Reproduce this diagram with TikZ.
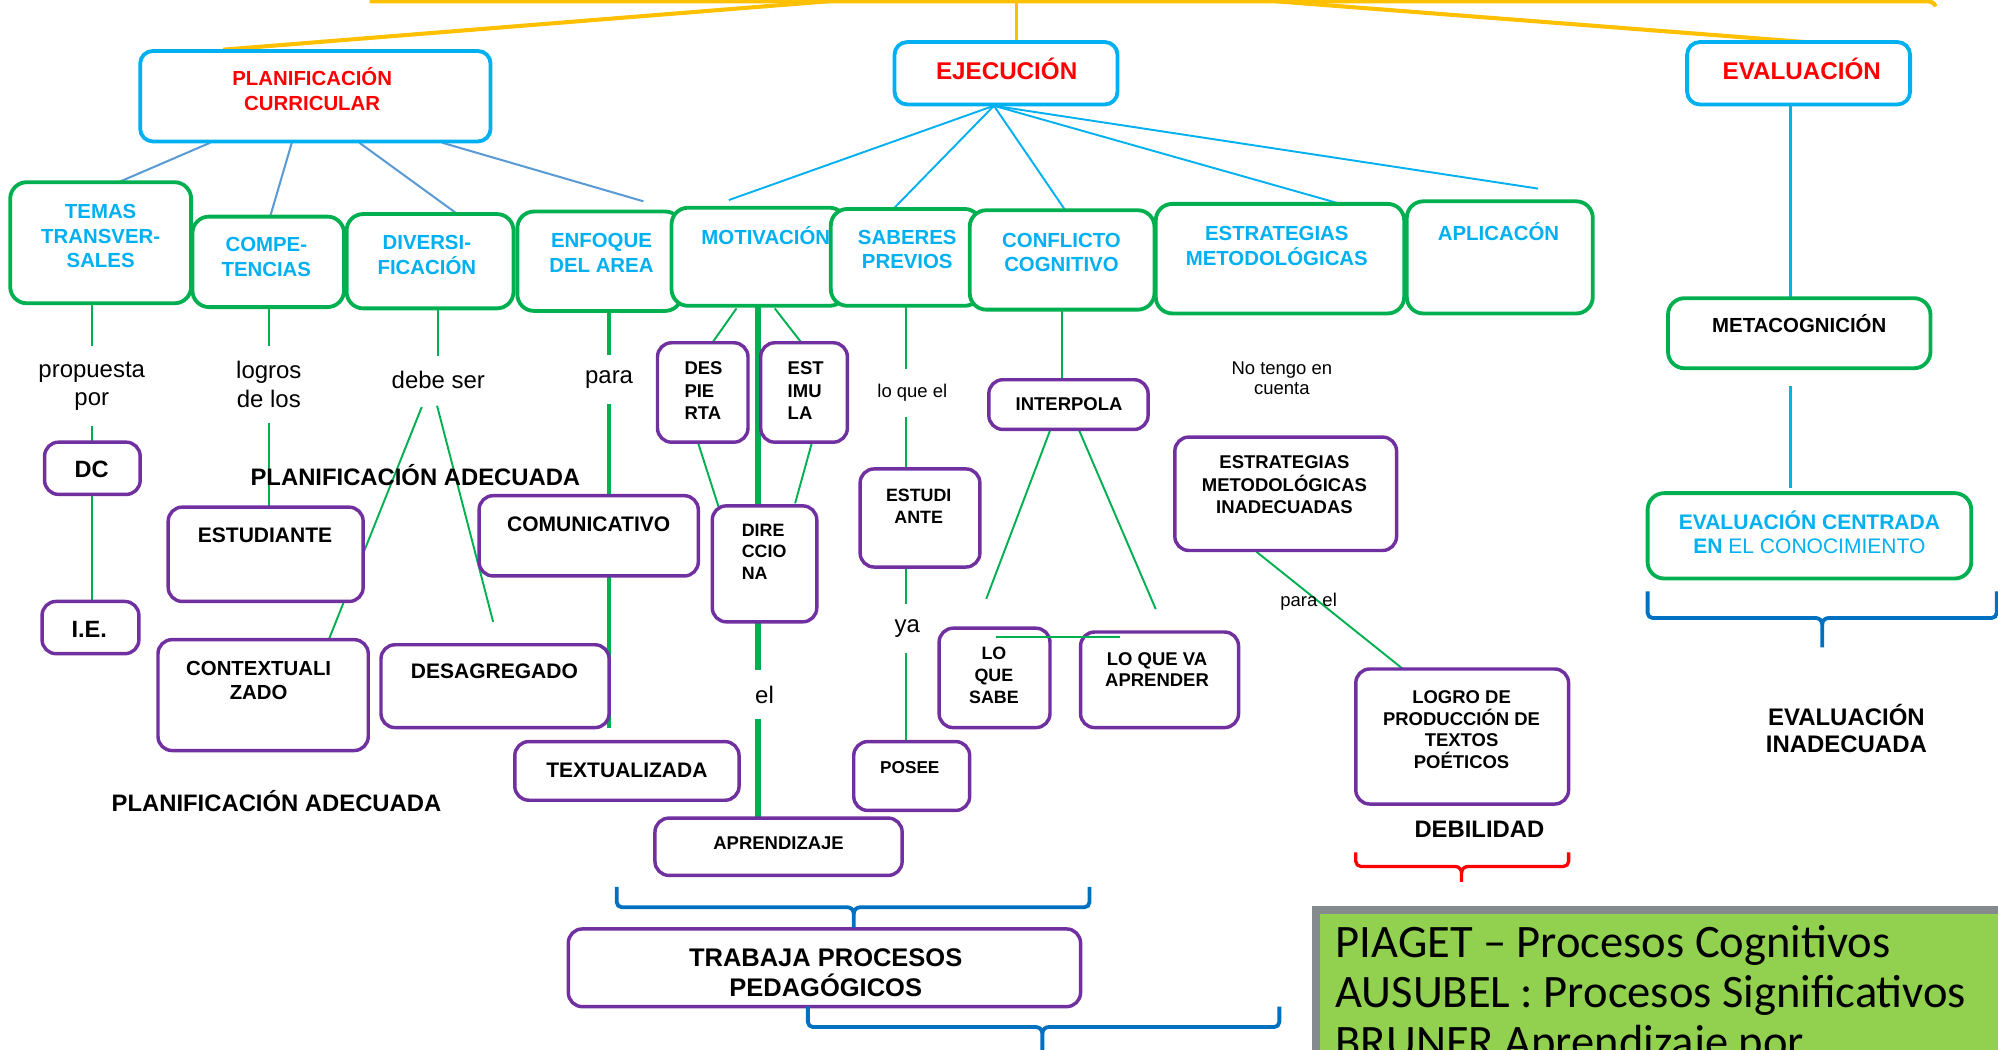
\documentclass[tikz,border=0pt]{standalone}
\usepackage{fontspec}
\setmainfont{Liberation Sans}
\newfontfamily\carl{Carlito}
\usetikzlibrary{calc}
\definecolor{cgreen}{HTML}{00B050}
\definecolor{cblue}{HTML}{00B0F0}
\definecolor{csteel}{HTML}{5B9BD5}
\definecolor{cpurple}{HTML}{7030A0}
\definecolor{cyellow}{HTML}{FFC000}
\definecolor{cdblue}{HTML}{0070C0}
\definecolor{cred}{HTML}{FF0000}
\definecolor{clime}{HTML}{92D050}
\definecolor{cgray}{HTML}{848A8E}
\pgfdeclarelayer{bg}
\pgfsetlayers{bg,main}
\newcommand\fs[2]{\fontsize{#1}{#2}\selectfont}
\newcommand\bx[6]{\node[#1, minimum width=#5pt, minimum height=#6pt] (#2) at (#3,#4) {};}
\newcommand\mybrace[7]{%
\draw[#1] (#2,#4) -- (#2,#5-4) to[out=-90,in=180] (#2+4,#5) -- (#6-5,#5) to[out=0,in=90] (#6,#5+5) -- (#6,#7);
\draw[#1] (#6,#5+5) to[out=90,in=180] (#6+5,#5) -- (#3-4,#5) to[out=0,in=-90] (#3,#5-4) -- (#3,#4);}
\begin{document}
\begin{tikzpicture}[x=1pt,y=-1pt,
  greenbox/.style={draw=cgreen, fill=white, line width=3pt, rounded corners=13pt, inner sep=0pt, outer sep=0pt},
  bluebox/.style={draw=cblue, fill=white, line width=3pt, rounded corners=10pt, inner sep=0pt, outer sep=0pt},
  purplebox/.style={draw=cpurple, fill=white, line width=2.7pt, rounded corners=11pt, inner sep=0pt, outer sep=0pt},
  tx/.style={inner sep=0pt, align=center},
  hd/.style={tx, font=\fs{16}{19.2}\bfseries, text=cblue},
  pk/.style={tx, font=\fs{16.5}{19.5}\bfseries, text=black},
  ps/.style={tx, font=\fs{14.5}{17.5}\bfseries, text=black},
  lab/.style={inner xsep=0pt, inner ysep=12pt, align=center, font=\fs{18.8}{22}, text=black},
  labs/.style={lab, font=\fs{14.5}{16.3}},
  lnY/.style={draw=cyellow, line width=3.2pt},
  lnS/.style={draw=csteel, line width=1.6pt},
  lnB/.style={draw=cblue, line width=1.5pt},
  lnG/.style={draw=cgreen, line width=1.5pt},
  lnGT/.style={draw=cgreen, line width=3.2pt},
  lnGX/.style={draw=cgreen, line width=4.7pt},
  brc/.style={draw=cdblue, line width=3pt, line join=round},
]
\useasboundingbox (0,0) rectangle (1568,824);

% ---------- boxes ----------
\bx{bluebox}{plan}{247.5}{75.5}{275}{71}
\bx{bluebox}{ejec}{789.5}{57.5}{175}{49}
\bx{bluebox}{eval}{1411.5}{57.5}{175}{49}
\bx{greenbox}{temas}{79}{190.5}{142}{95}
\bx{greenbox}{compe}{210.5}{205.5}{119}{71}
\bx{greenbox}{diver}{337.5}{205}{131}{74}
\bx{greenbox}{enfoq}{470.5}{205}{129}{78}
\bx{greenbox}{motiv}{595.5}{201.5}{137}{77}
\bx{greenbox}{saber}{711}{202}{118}{76}
\bx{greenbox}{confl}{833.5}{204}{145}{78}
\bx{greenbox}{estra}{1004.5}{203}{195}{86}
\bx{greenbox}{aplic}{1177}{202}{146}{88}
\bx{greenbox}{meta}{1412}{261.5}{206}{55}
\bx{greenbox}{evcen}{1420}{420.5}{254}{67}
\bx{purplebox}{dc}{72.5}{367.5}{75}{41}
\bx{purplebox}{ie}{71}{492.5}{76}{41}
\bx{purplebox}{estud}{208.5}{435}{153}{74}
\bx{purplebox}{contx}{206.5}{545.5}{165}{87}
\bx{purplebox}{desag}{388.5}{538.5}{179}{65}
\bx{purplebox}{comun}{462}{420.5}{172}{63}
\bx{purplebox}{textu}{492}{605}{176}{46}
\bx{purplebox}{apren}{611}{664.5}{194}{45}
\bx{purplebox}{despi}{551.5}{308}{71}{78}
\bx{purplebox}{estim}{631}{308}{68}{78}
\bx{purplebox}{direc}{600}{442.5}{82}{91}
\bx{purplebox}{estan}{722}{406.5}{94}{77}
\bx{purplebox}{inter}{838.5}{317.5}{125}{39}
\bx{purplebox}{losab}{780.5}{532}{87}{78}
\bx{purplebox}{lova}{910}{533.5}{124}{75}
\bx{purplebox}{posee}{715.5}{609}{91}{54}
\bx{purplebox}{estin}{1009}{387.5}{174}{89}
\bx{purplebox}{logro}{1147.5}{578}{167}{106}
\bx{purplebox}{traba}{647}{759.5}{402}{61}

% ---------- box texts ----------
\node[tx, font=\fs{16}{19.2}\bfseries, text=cred] (plan-t) at (245,70) {PLANIFICACIÓN\\CURRICULAR};
\node[tx, font=\fs{19}{22}\bfseries, text=cred, anchor=base] (ejec-t) at (790,62) {EJECUCIÓN};
\node[tx, font=\fs{19}{22}\bfseries, text=cred, anchor=base] (eval-t) at (1414,62) {EVALUACIÓN};
\node[hd] (temas-t) at (79,185.5) {TEMAS\\TRANSVER-\\SALES};
\node[hd] (compe-t) at (209,201.5) {COMPE-\\TENCIAS};
\node[hd] (diver-t) at (335,200) {DIVERSI-\\FICACIÓN};
\node[hd] (enfoq-t) at (472,198.5) {ENFOQUE\\DEL AREA};
\node[hd, anchor=base] (motiv-t) at (601,192) {MOTIVACIÓN};
\node[hd] (saber-t) at (712,195.7) {SABERES\\PREVIOS};
\node[hd] (confl-t) at (833,198) {CONFLICTO\\COGNITIVO};
\node[hd] (estra-t) at (1002,193) {ESTRATEGIAS\\METODOLÓGICAS};
\node[hd, anchor=base] (aplic-t) at (1176,188.4) {APLICACÓN};
\node[hd, text=black, anchor=base] (meta-t) at (1412,260.7) {METACOGNICIÓN};
\node[tx, font=\fs{16.5}{19}, text=cblue] (evcen-t) at (1420,417.5) {\bfseries EVALUACIÓN CENTRADA\\{\bfseries EN} EL CONOCIMIENTO};
\node[tx, font=\fs{18.5}{22}\bfseries, anchor=base] (dc-t) at (72,374.5) {DC};
\node[tx, font=\fs{18.5}{22}\bfseries, anchor=base] (ie-t) at (70,500) {I.E.};
\node[pk, anchor=base] (estud-t) at (208,425.5) {ESTUDIANTE};
\node[tx, font=\fs{16}{18.8}\bfseries] (contx-t) at (203,533.8) {CONTEXTUALI\\ZADO};
\node[pk, anchor=base] (desag-t) at (388,532.5) {DESAGREGADO};
\node[pk, anchor=base] (comun-t) at (462,417.5) {COMUNICATIVO};
\node[pk, anchor=base] (textu-t) at (492,610) {TEXTUALIZADA};
\node[ps, anchor=base] (apren-t) at (611,666.5) {APRENDIZAJE};
\node[ps, align=left, anchor=west, font=\fs{14.5}{17.75}\bfseries] (despi-t) at (537,306.5) {DES\\PIE\\RTA};
\node[ps, align=left, anchor=west, font=\fs{14.5}{17.75}\bfseries] (estim-t) at (618,306.5) {EST\\IMU\\LA};
\node[ps, align=left, anchor=west, font=\fs{14}{17}\bfseries] (direc-t) at (582,433) {DIRE\\CCIO\\NA};
\node[ps, font=\fs{14}{17.5}\bfseries] (estan-t) at (721,397.3) {ESTUDI\\ANTE};
\node[ps, anchor=base] (inter-t) at (839,322.5) {INTERPOLA};
\node[ps, font=\fs{14}{17}\bfseries] (losab-t) at (780,530) {LO\\QUE\\SABE};
\node[ps, font=\fs{14.5}{17}\bfseries] (lova-t) at (908,525.5) {LO QUE VA\\APRENDER};
\node[ps, font=\fs{13.5}{16}\bfseries, anchor=base] (posee-t) at (714,607) {POSEE};
\node[ps] (estin-t) at (1008,380.5) {ESTRATEGIAS\\METODOLÓGICAS\\INADECUADAS};
\node[ps, font=\fs{14.5}{17.07}\bfseries] (logro-t) at (1147,572.6) {LOGRO DE\\PRODUCCIÓN DE\\TEXTOS\\POÉTICOS};
\node[tx, font=\fs{20}{23.5}\bfseries] (traba-t) at (648,763.3) {TRABAJA PROCESOS\\PEDAGÓGICOS};

% ---------- free labels ----------
\node[lab] (propuesta) at (72,303) {propuesta\\por};
\node[lab] (logros) at (211,301.7) {logros\\de los};
\node[lab, anchor=base] (debe) at (344,305) {debe ser};
\node[lab, anchor=base] (para) at (478,301) {para};
\node[labs, anchor=base] (loqueel) at (716,312) {lo que el};
\node[lab, anchor=base] (ya) at (712,496) {ya};
\node[lab, anchor=base] (el) at (600,552) {el};
\node[labs, inner ysep=0pt] (notengo) at (1006,296.8) {No tengo en\\cuenta};
\node[labs, inner ysep=0pt, anchor=base] (parael) at (1027,476) {para el};
\node[tx, font=\fs{18.7}{22}\bfseries, anchor=base] (planad1) at (326,381) {PLANIFICACIÓN ADECUADA};
\node[tx, font=\fs{18.7}{22}\bfseries, anchor=base] (planad2) at (217,637) {PLANIFICACIÓN ADECUADA};
\node[tx, font=\fs{18.8}{21}\bfseries] (evinad) at (1449,572) {EVALUACIÓN\\INADECUADA};
\node[tx, font=\fs{18.7}{22}\bfseries, anchor=base] (debil) at (1161,657) {DEBILIDAD};

% ---------- connectors (behind boxes) ----------
\begin{pgfonlayer}{bg}
\coordinate (ybl) at (290,1);
\coordinate (ybr) at (1512,1);
\coordinate (yA) at (650,1);
\coordinate (yB) at (798,1);
\coordinate (yC) at (1001,1);
\draw[lnY] (ybl) -- (ybr) to[out=0,in=110] (1519,5);
\draw[lnY] (yA) -- ($(plan.north)+(-72.5,-1)$);
\draw[lnY, line width=2.2pt] (yB) -- (yB |- ejec.north);
\draw[lnY] (yC) -- ($(eval.north)+(5,0)$);

\coordinate (pe) at (505,158);
\draw[lnS] ($(plan.south)+(-82.5,1)$) -- ($(temas.north)+(14,0)$);
\draw[lnS] ($(plan.south)+(-18.5,1)$) -- ($(compe.north)+(1.5,0)$);
\draw[lnS] ($(plan.south)+(34.5,1)$) -- ($(diver.north)+(21.5,0)$);
\draw[lnS] ($(plan.south)+(99.5,1)$) -- (pe);

\coordinate (ej) at ($(ejec.south)+(-9.5,1)$);
\coordinate (em) at (572,157);
\coordinate (ea) at (1207,148);
\draw[lnB] (ej) -- (em);
\draw[lnB] (ej) -- ($(saber.north)+(-10,0)$);
\draw[lnB] (ej) -- ($(confl.north)+(2.5,0)$);
\draw[lnB] (ej) -- ($(estra.north)+(47.5,0)$);
\draw[lnB] (ej) -- (ea);
\draw[lnB, line width=2pt] ($(eval.south)+(-6.5,0)$) -- ($(meta.north)+(-7,0)$);
\draw[lnB, line width=2pt] ($(meta.south)+(-7,14)$) -- ($(evcen.north)+(-15,-4)$);

\draw[lnG] (temas.south -| dc) -- (propuesta.north -| dc);
\draw[lnG] (propuesta.south -| dc) -- (dc.north);
\draw[lnG] (dc.south) -- (ie.north -| dc);
\draw[lnG] (compe.south -| logros) -- (logros.north);
\draw[lnG] (logros.south) -- (estud.north -| logros);
\draw[lnG] (diver.south -| debe) -- (debe.north);
\coordinate (dg) at (387,488);
\draw[lnG] ($(debe.south)+(-13,2)$) -- ($(contx.north)+(51.5,0)$);
\draw[lnG] ($(debe.south)+(-1,1)$) -- (dg);
\draw[lnGT] (enfoq.south -| para) -- (para.north);
\draw[lnGT] (para.south) -- (comun.north -| para);
\draw[lnGT] (comun.south -| para) -- (desag.south -| para);
\draw[lnGX] ($(motiv.south)+(-0.5,0)$) -- ($(direc.north)+(-5,0)$);
\draw[lnGX] ($(direc.south)+(-5,0)$) -- ($(el.north)+(-5,0)$);
\draw[lnGX] ($(el.south)+(-5,0)$) -- ($(apren.north)+(-16,0)$);
\draw[lnG] ($(motiv.south)+(-17.5,2)$) -- ($(despi.north)+(7.5,0)$);
\draw[lnG] ($(motiv.south)+(12.5,2)$) -- ($(estim.north)+(-2,0)$);
\draw[lnG] ($(despi.south)+(-3.5,1)$) -- ($(direc.north)+(-36,1)$);
\draw[lnG] ($(estim.south)+(6,1)$) -- ($(direc.north)+(24,-2)$);
\draw[lnG] (saber.south) -- (saber.south |- loqueel.north);
\draw[lnG] (saber.south |- loqueel.south) -- (saber.south |- estan.north);
\draw[lnG] (saber.south |- estan.south) -- (saber.south |- ya.north);
\draw[lnG] (saber.south |- ya.south) -- (saber.south |- posee.north);
\draw[lnG] (confl.south) -- (confl.south |- inter.north);
\coordinate (il) at (774,470);
\coordinate (ir) at (907,478);
\draw[lnG] ($(inter.south)+(-14.5,1)$) -- (il);
\draw[lnG] ($(inter.south)+(8.5,1)$) -- (ir);
\draw[lnG] ($(estin.south)+(-23,1)$) -- ($(logro.north)+(-46.5,0)$);
\end{pgfonlayer}

% ---------- on top ----------
\draw[lnG] ($(losab.north)+(1.5,7)$) -- ($(lova.north)+(-31,4)$);

\mybrace{brc}{1293}{1567}{464}{485}{1430}{508}
\mybrace{brc, draw=cred, line width=2.6pt}{1064}{1231}{669}{680}{1147}{692}
\mybrace{brc}{484}{855}{696}{712}{670}{728}
\mybrace{brc}{634}{1004}{790}{806}{818}{830}

\node[draw=cgray, fill=clime, line width=6pt, minimum width=600pt, minimum height=200pt, anchor=north west, inner sep=0pt] (theo) at (1030,711) {};
\node[anchor=north west, inner sep=0pt, align=left, font=\carl\fs{36.5}{39}, text=black] (theo-t) at (1048,726.3) {PIAGET – Procesos Cognitivos\\AUSUBEL : Procesos Significativos\\BRUNER Aprendizaje por};
\end{tikzpicture}
\end{document}
